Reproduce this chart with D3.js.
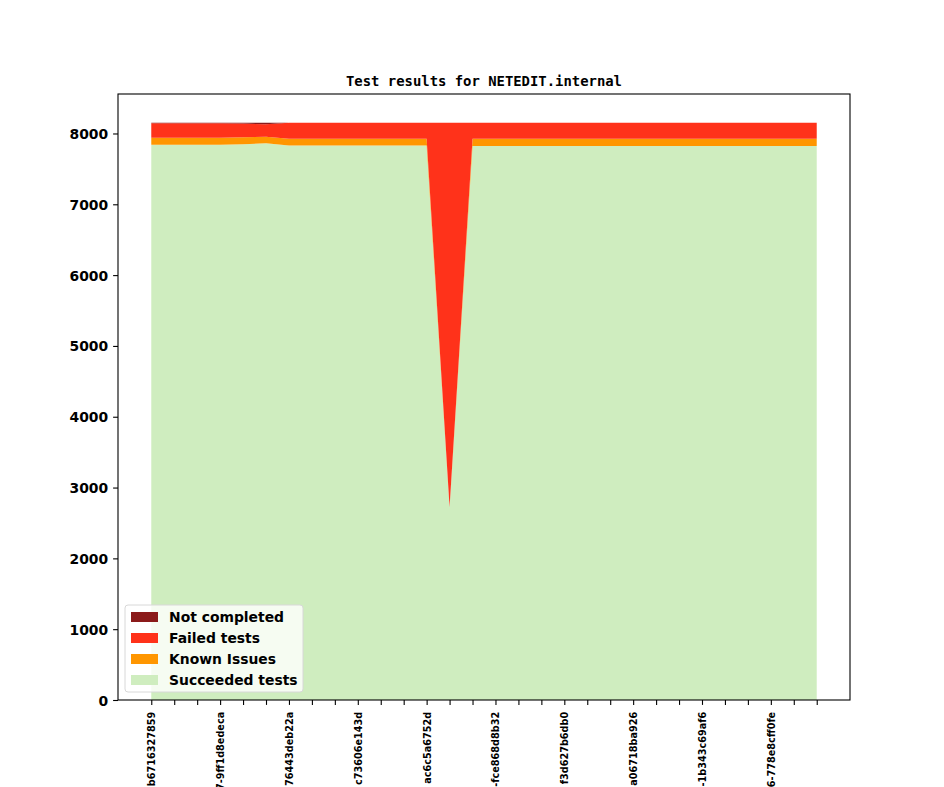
<!DOCTYPE html>
<html>
<head>
<meta charset="utf-8">
<script src="https://cdn.jsdelivr.net/npm/d3@7"></script>
<style>
  body { margin: 0; background: #fff; }
  svg { display: block; }
  .tick-label { font-family: "DejaVu Sans", sans-serif; font-weight: bold; }
  .title { font-family: "DejaVu Sans Mono", monospace; font-weight: bold; font-size: 13.9px; }
</style>
</head>
<body>
<svg id="chart" width="944" height="787"></svg>
<script>
"use strict";

/******************************************************* Data *******************************************************/

// One entry per build, in order
const SUCCEEDED = [7842, 7842, 7842, 7842, 7848, 7861, 7832, 7832, 7832, 7832,
  7832, 7832, 7832, 2720, 7824, 7824, 7824, 7824, 7824, 7824,
  7824, 7824, 7824, 7824, 7824, 7824, 7824, 7824, 7824, 7824];
const KNOWN = [99, 99, 99, 99, 98, 94, 95, 95, 95, 95,
  95, 95, 95, 5, 100, 100, 100, 100, 100, 100,
  100, 100, 100, 100, 100, 100, 100, 100, 100, 100];
const FAILED = [204, 204, 204, 204, 194, 175, 223, 223, 223, 223,
  223, 223, 223, 5425, 226, 226, 226, 226, 226, 226,
  226, 226, 226, 226, 226, 226, 226, 226, 226, 226];
const NOT_COMPLETED = [5, 5, 5, 5, 10, 20, 0, 0, 0, 0,
  0, 0, 0, 0, 0, 0, 0, 0, 0, 0,
  0, 0, 0, 0, 0, 0, 0, 0, 0, 0];

// Tick labels shown on every third build (only the visible tail of each)
const TICK_LABELS = ["b6716327859", "7-9ff1d8edeca", "76443deb22a", "c73606e143d", "ac6c5a6752d",
  "-fce868d8b32", "f3d627b6db0", "a06718ba926", "-1b343c69af6", "6-778e8cff0fe"];
const Y_TICKS = [0, 1000, 2000, 3000, 4000, 5000, 6000, 7000, 8000];

const SERIES_NAMES = ["Succeeded tests", "Known Issues", "Failed tests", "Not completed"];
const SERIES_COLORS = ["#cfedbf", "#ff9600", "#ff321a", "#8b1a1a"];
const TITLE = "Test results for NETEDIT.internal";

/******************************************************* Layout *******************************************************/

const AX_LEFT = 118;
const AX_RIGHT = 850;
const AX_TOP = 94;
const AX_BOTTOM = 700;
const TICK_LEN = 4.9;
const TICK_PAD = 4.9;

const SVG = d3.select("#chart");

// Build table for the stack
const TABLE = SUCCEEDED.map(function(d, i) {
  return {
    idx: i,
    "Succeeded tests": SUCCEEDED[i],
    "Known Issues": KNOWN[i],
    "Failed tests": FAILED[i],
    "Not completed": NOT_COMPLETED[i]
  };
});

const N = TABLE.length;
const X_PAD = (N - 1) * 0.05;

// Scales (5% margin on x like matplotlib, y starts at 0)
const X_SCALE = d3.scaleLinear()
  .domain([-X_PAD, N - 1 + X_PAD])
  .range([AX_LEFT, AX_RIGHT]);

const STACK = d3.stack().keys(SERIES_NAMES)(TABLE);
const Y_MAX = d3.max(STACK[STACK.length - 1], function(d) { return d[1]; });

const Y_SCALE = d3.scaleLinear()
  .domain([0, Y_MAX * 1.05])
  .range([AX_BOTTOM, AX_TOP]);

// Area generator
const AREA = d3.area()
  .x(function(d) { return X_SCALE(d.data.idx); })
  .y0(function(d) { return Y_SCALE(d[0]); })
  .y1(function(d) { return Y_SCALE(d[1]); });

// Draw stacked areas
const G_AREAS = SVG.append("g");
STACK.forEach(function(layer, i) {
  G_AREAS.append("path")
    .datum(layer)
    .attr("d", AREA)
    .attr("fill", SERIES_COLORS[i]);
});

// X axis: a tick per build, label every third
const X_AXIS = d3.axisBottom(X_SCALE)
  .tickValues(d3.range(N))
  .tickSize(TICK_LEN)
  .tickPadding(TICK_PAD)
  .tickFormat(function(d) {
    return d % 3 === 0 ? TICK_LABELS[d / 3] : "";
  });

const G_X = SVG.append("g")
  .attr("transform", "translate(0," + AX_BOTTOM + ")")
  .call(X_AXIS);

G_X.select(".domain").remove();
G_X.selectAll(".tick line").attr("stroke", "#000").attr("stroke-width", 1.1);
G_X.selectAll(".tick text")
  .classed("tick-label", true)
  .attr("font-size", "9.7px")
  .attr("fill", "#000")
  .attr("x", 0)
  .attr("y", 0)
  .attr("dy", null)
  .attr("text-anchor", "end")
  .attr("dominant-baseline", "central")
  .attr("transform", "translate(0," + (TICK_LEN + TICK_PAD + 2) + ") rotate(-90)");

// Y axis
const Y_AXIS = d3.axisLeft(Y_SCALE)
  .tickValues(Y_TICKS)
  .tickSize(TICK_LEN)
  .tickPadding(TICK_PAD)
  .tickFormat(d3.format("d"));

const G_Y = SVG.append("g")
  .attr("transform", "translate(" + AX_LEFT + ",0)")
  .call(Y_AXIS);

G_Y.select(".domain").remove();
G_Y.selectAll(".tick line").attr("stroke", "#000").attr("stroke-width", 1.1);
G_Y.selectAll(".tick text")
  .classed("tick-label", true)
  .attr("font-size", "13.9px")
  .attr("fill", "#000")
  .attr("dy", null)
  .attr("dominant-baseline", "central");

// Axes frame
SVG.append("rect")
  .attr("x", AX_LEFT)
  .attr("y", AX_TOP)
  .attr("width", AX_RIGHT - AX_LEFT)
  .attr("height", AX_BOTTOM - AX_TOP)
  .attr("fill", "none")
  .attr("stroke", "#000")
  .attr("stroke-width", 1.1);

// Title
SVG.append("text")
  .classed("title", true)
  .attr("x", (AX_LEFT + AX_RIGHT) / 2)
  .attr("y", AX_TOP - 8)
  .attr("text-anchor", "middle")
  .text(TITLE);

// Legend (top series first)
const G_LEGEND = SVG.append("g").attr("transform", "translate(125,605)");

G_LEGEND.append("rect")
  .attr("width", 178)
  .attr("height", 87)
  .attr("rx", 3)
  .attr("fill", "#fff")
  .attr("fill-opacity", 0.8)
  .attr("stroke", "#d8d8d8")
  .attr("stroke-width", 1);

const LEGEND_ORDER = d3.range(SERIES_NAMES.length).reverse();
LEGEND_ORDER.forEach(function(si, row) {
  const cy = 12 + row * 21;
  G_LEGEND.append("rect")
    .attr("x", 6)
    .attr("y", cy - 5)
    .attr("width", 27)
    .attr("height", 10)
    .attr("fill", SERIES_COLORS[si]);
  G_LEGEND.append("text")
    .attr("x", 44)
    .attr("y", cy)
    .attr("dominant-baseline", "central")
    .attr("font-family", "DejaVu Sans, sans-serif")
    .attr("font-weight", "bold")
    .attr("font-size", "13.9px")
    .attr("fill", "#000")
    .text(SERIES_NAMES[si]);
});
</script>
</body>
</html>
